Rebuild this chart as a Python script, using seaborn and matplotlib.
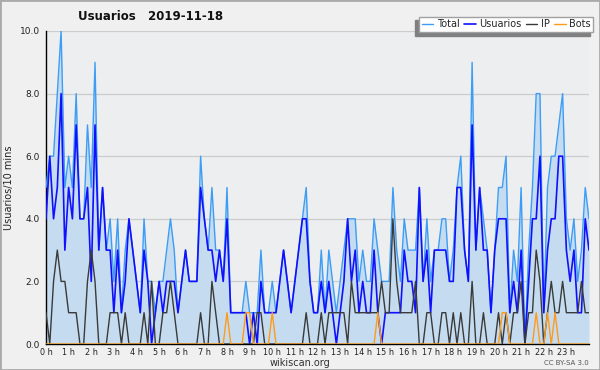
import pandas as pd
import seaborn as sns
import matplotlib.pyplot as plt
from matplotlib.patches import Rectangle
from matplotlib.ticker import MultipleLocator, FormatStrFormatter

# one value every 10 minutes, 0:00 -> 24:00
usuarios = [4, 6, 4, 5, 8, 3, 5, 4, 7, 4, 4, 5, 2, 7, 3, 5, 3, 3, 1, 3,
            1, 2, 4, 3, 2, 1, 3, 2, 0, 1, 2, 1, 2, 2, 2, 1, 2, 3, 2, 2,
            2, 5, 4, 3, 3, 2, 3, 2, 4, 1, 1, 1, 1, 1, 0, 1, 0, 2, 1, 1,
            1, 1, 2, 3, 2, 1, 2, 3, 4, 4, 2, 1, 1, 2, 1, 2, 1, 0, 1, 2,
            4, 2, 3, 1, 2, 1, 1, 3, 1, 0, 1, 1, 1, 1, 1, 3, 2, 2, 1, 5,
            2, 3, 1, 3, 3, 3, 3, 2, 2, 5, 5, 3, 2, 7, 3, 5, 3, 3, 1, 3,
            4, 4, 4, 1, 2, 1, 3, 0, 2, 4, 4, 6, 1, 3, 4, 4, 6, 6, 3, 2,
            3, 1, 1, 4, 3]
ip = [1, 0, 2, 3, 2, 2, 1, 1, 1, 0, 0, 2, 3, 2, 0, 0, 0, 1, 1, 1,
      0, 1, 0, 0, 0, 0, 1, 0, 2, 0, 0, 1, 1, 2, 1, 0, 0, 0, 0, 0,
      0, 1, 0, 0, 2, 1, 0, 0, 0, 0, 0, 0, 0, 0, 0, 0, 1, 1, 0, 0,
      0, 0, 0, 0, 0, 0, 0, 0, 0, 1, 0, 0, 0, 1, 0, 1, 1, 1, 1, 1,
      0, 2, 1, 1, 1, 1, 1, 1, 1, 2, 1, 1, 4, 2, 1, 1, 1, 1, 2, 0,
      0, 1, 1, 0, 0, 1, 1, 0, 1, 0, 1, 0, 0, 2, 0, 0, 1, 0, 0, 0,
      1, 0, 1, 0, 1, 1, 2, 0, 1, 1, 3, 2, 0, 1, 2, 1, 1, 2, 1, 1,
      1, 1, 2, 1, 1]
bots = [0, 0, 0, 0, 0, 0, 0, 0, 0, 0, 0, 0, 0, 0, 0, 0, 0, 0, 0, 0,
        0, 0, 0, 0, 0, 0, 0, 0, 0, 0, 0, 0, 0, 0, 0, 0, 0, 0, 0, 0,
        0, 0, 0, 0, 0, 0, 0, 0, 1, 0, 0, 0, 0, 1, 1, 0, 0, 0, 0, 0,
        1, 0, 0, 0, 0, 0, 0, 0, 0, 0, 0, 0, 0, 0, 0, 0, 0, 0, 0, 0,
        0, 0, 0, 0, 0, 0, 0, 0, 1, 0, 0, 0, 0, 0, 0, 0, 0, 0, 0, 0,
        0, 0, 0, 0, 0, 0, 0, 0, 0, 0, 0, 0, 0, 0, 0, 0, 0, 0, 0, 0,
        0, 1, 1, 0, 0, 0, 0, 0, 0, 0, 1, 0, 0, 1, 0, 1, 0, 0, 0, 0,
        0, 0, 0, 0, 0]
total = [5, 6, 6, 8, 10, 5, 6, 5, 8, 4, 4, 7, 5, 9, 3, 5, 3, 4, 2, 4,
         1, 3, 4, 3, 2, 1, 4, 2, 2, 1, 2, 2, 3, 4, 3, 1, 2, 3, 2, 2,
         2, 6, 4, 3, 5, 3, 3, 2, 5, 1, 1, 1, 1, 2, 1, 1, 1, 3, 1, 1,
         2, 1, 2, 3, 2, 1, 2, 3, 4, 5, 2, 1, 1, 3, 1, 3, 2, 1, 2, 3,
         4, 4, 4, 2, 3, 2, 2, 4, 3, 2, 2, 2, 5, 3, 2, 4, 3, 3, 3, 5,
         2, 4, 2, 3, 3, 4, 4, 2, 3, 5, 6, 3, 2, 9, 3, 5, 4, 3, 1, 3,
         5, 5, 6, 1, 3, 2, 5, 0, 3, 5, 8, 8, 1, 5, 6, 6, 7, 8, 4, 3,
         4, 2, 3, 5, 4]
hour_labels = ['%d h' % h for h in range(24)]

df = pd.DataFrame({'step': range(len(total)), 'Total': total,
                   'Usuarios': usuarios, 'IP': ip, 'Bots': bots})

sns.set_style('white')
plt.rcParams['font.family'] = ['DejaVu Sans']

W, H = 600, 370
fig = plt.figure(figsize=(6, 3.7), dpi=100, facecolor='#f0f0f0')
ax = fig.add_axes([46 / W, 26 / H, 543 / W, 313 / H])
ax.set_facecolor('#eceef0')

ax.fill_between(df['step'], df['Total'], color='#c5dcf0', linewidth=0, zorder=1)
colors = {'Total': '#3d9df5', 'Usuarios': '#1010ff', 'IP': '#3a3a3a', 'Bots': '#ff9a1a'}
widths = {'Total': 1.0, 'Usuarios': 1.2, 'IP': 1.0, 'Bots': 1.0}
for col in ['Total', 'Usuarios', 'IP', 'Bots']:
    sns.lineplot(data=df, x='step', y=col, ax=ax, color=colors[col],
                 linewidth=widths[col], label=col, legend=False, zorder=3)

ax.set_xlim(0, 144)
ax.set_ylim(0, 10)
ax.set_xlabel('')
ax.set_ylabel('')
ax.set_xticks([h * 6 for h in range(24)])
ax.set_xticklabels(hour_labels)
ax.xaxis.set_minor_locator(MultipleLocator(1))
ax.yaxis.set_major_locator(MultipleLocator(2))
ax.yaxis.set_minor_locator(MultipleLocator(0.5))
ax.yaxis.set_major_formatter(FormatStrFormatter('%.1f'))
ax.grid(axis='y', which='major', color='#cccccc', linewidth=0.9, zorder=0)
ax.set_axisbelow(True)
ax.tick_params(which='major', direction='out', length=3.5, width=0.8,
               color='black', labelsize=6.5, labelcolor='#222222')
ax.tick_params(axis='x', which='major', pad=-0.5)
ax.tick_params(axis='y', which='major', pad=1)
ax.tick_params(which='minor', direction='out', length=2.5, width=0.8, color='black')
for lbl in ax.get_xticklabels():
    lbl.set_fontstretch('condensed')
for s in ['top', 'right']:
    ax.spines[s].set_visible(False)
for s in ['left', 'bottom']:
    ax.spines[s].set_color('black')
    ax.spines[s].set_linewidth(1.0)

# legend with a dark shadow to the lower left
fig.patches.append(Rectangle((415 / W, 1 - 36 / H), 175 / W, 16 / H,
                             transform=fig.transFigure, color='#808080', zorder=2))
leg = fig.legend(loc='upper right', bbox_to_anchor=(593 / W, 1 - 17 / H), ncol=4,
                 fontsize=7, frameon=True, fancybox=False, borderpad=0.25,
                 handlelength=1.2, handletextpad=0.35, columnspacing=0.45,
                 borderaxespad=0)
leg.get_frame().set_edgecolor('#a0a0a0')
leg.get_frame().set_facecolor('white')
leg.get_frame().set_alpha(1)
leg.set_zorder(5)

fig.text(151 / W, 1 - 16 / H, 'Usuarios   2019-11-18', fontsize=8.5,
         fontweight='bold', ha='center', va='center', color='#111111')
fig.text(9 / W, 1 - 188 / H, 'Usuarios/10 mins', fontsize=7, rotation=90,
         ha='center', va='center', color='#222222')
fig.text(300 / W, 1 - 363 / H, 'wikiscan.org', fontsize=7, ha='center',
         va='center', color='#333333')
fig.text(589 / W, 1 - 363 / H, 'CC BY-SA 3.0', fontsize=5, ha='right',
         va='center', color='#555555')

fig.patches.append(Rectangle((0, 0), 1, 1, transform=fig.transFigure, fill=False,
                             edgecolor='#aaaaaa', linewidth=2))

fig.savefig('out.png', dpi=100, facecolor=fig.get_facecolor())
